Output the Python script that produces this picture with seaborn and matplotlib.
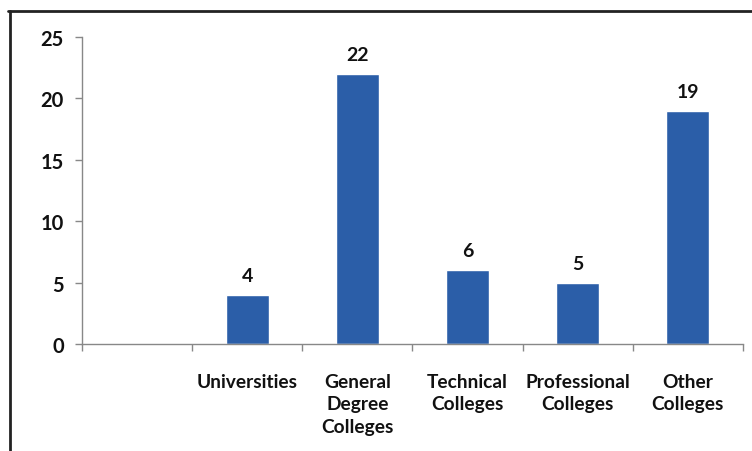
import matplotlib
matplotlib.use("Agg")
import matplotlib.pyplot as plt
from matplotlib.lines import Line2D
import seaborn as sns
import pandas as pd

categories = ["", "Universities", "General\nDegree\nColleges", "Technical\nColleges",
              "Professional\nColleges", "Other\nColleges"]
bar_categories = ["Universities", "General\nDegree\nColleges", "Technical\nColleges",
                  "Professional\nColleges", "Other\nColleges"]
values = [4, 22, 6, 5, 19]
yticks = [0, 5, 10, 15, 20, 25]

sns.set_theme(style="white")
plt.rcParams['font.family'] = ['Lato', 'DejaVu Sans']

df = pd.DataFrame({"cat": bar_categories, "val": values})

fig = plt.figure(figsize=(7.52, 4.52), dpi=100)
ax = fig.add_axes([82/752, 1-345/452, (743-82)/752, (345-38)/452])
sns.barplot(data=df, x="cat", y="val", order=categories, color="#2B5EA8",
            saturation=1, width=0.39, ax=ax)

ax.set_ylim(0, 25)
ax.set_xlim(-0.5, len(categories)-0.5)
ax.set_yticks(yticks)
ax.set_yticklabels([str(t) for t in yticks], fontsize=14.5, fontweight="bold", color="#111111")
ax.set_xlabel("")
ax.set_ylabel("")
ax.tick_params(axis="x", length=0, pad=21)
for lbl in ax.get_xticklabels():
    lbl.set_fontsize(13.8)
    lbl.set_fontweight("bold")
    lbl.set_color("#111111")
    lbl.set_linespacing(1.38)
    lbl.set_verticalalignment("top")
ax.set_xticks([i - 0.5 for i in range(len(categories)+1)], minor=True)
ax.tick_params(axis="x", which="minor", length=5, width=1, color="#888888", direction="out", bottom=True)
ax.tick_params(axis="y", length=5, width=1, color="#888888", direction="out", left=True, pad=8)

for s in ["top", "right"]:
    ax.spines[s].set_visible(False)
for s in ["left", "bottom"]:
    ax.spines[s].set_color("#888888")
    ax.spines[s].set_linewidth(1)

for i, v in enumerate(values):
    ax.text(i + 1, v + 0.9, str(v), ha="center", va="bottom", fontsize=14,
            fontweight="bold", color="#111111")

# outer frame (top and left)
fig.add_artist(Line2D([8/752, 1.0], [1-12/452, 1-12/452], transform=fig.transFigure,
                      color="#222222", linewidth=2))
fig.add_artist(Line2D([10/752, 10/752], [0, 1-12/452], transform=fig.transFigure,
                      color="#222222", linewidth=2))

fig.savefig("out.png", dpi=100)
